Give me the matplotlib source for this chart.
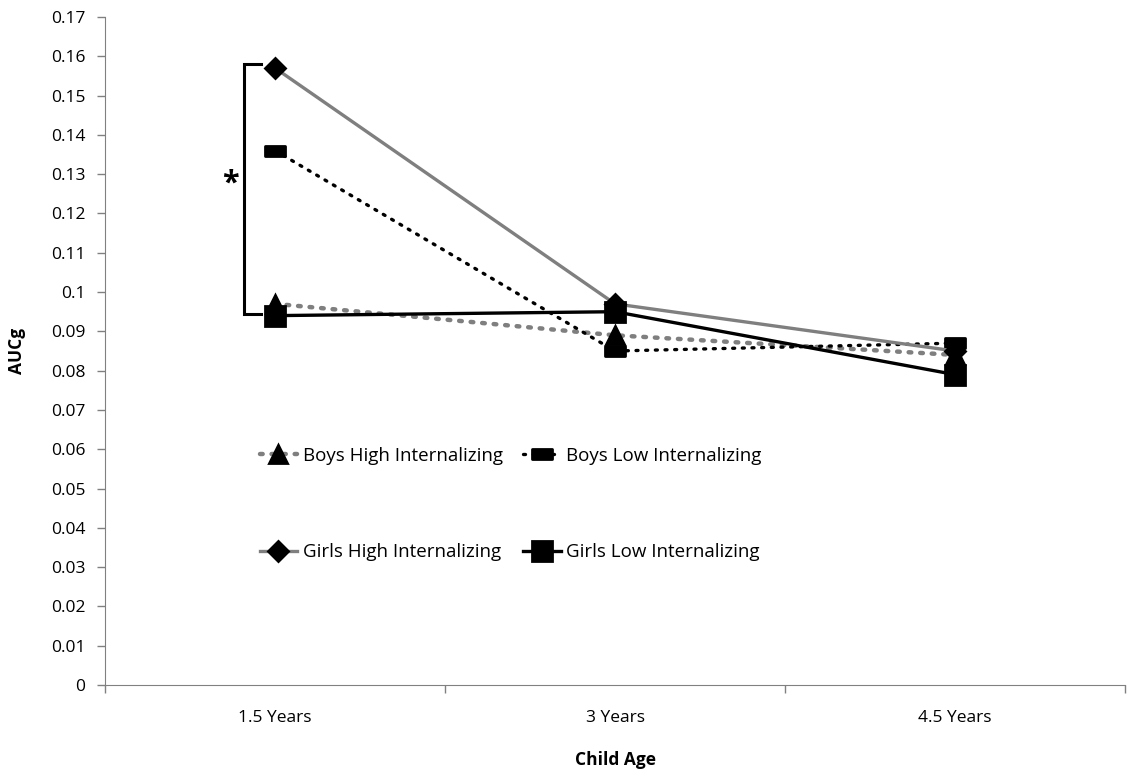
import matplotlib.pyplot as plt
import numpy as np
from matplotlib.path import Path

plt.rcParams['font.family'] = ['Open Sans', 'DejaVu Sans']

ages = ["1.5 Years", "3 Years", "4.5 Years"]
boys_high = [0.097, 0.089, 0.084]
boys_low = [0.136, 0.085, 0.087]
girls_high = [0.157, 0.097, 0.085]
girls_low = [0.094, 0.095, 0.079]

gray = "#7f7f7f"
bar_marker = Path([(-1, -0.45), (1, -0.45), (1, 0.45), (-1, 0.45), (-1, -0.45)],
                  [Path.MOVETO, Path.LINETO, Path.LINETO, Path.LINETO, Path.CLOSEPOLY])

fig = plt.figure(figsize=(11.32, 7.71), dpi=100)
ax = fig.add_axes([0.0928, 0.1115, 0.901, 0.8665])

x = np.arange(len(ages))
bh, = ax.plot(x, boys_high, color=gray, linestyle=(0, (0.6, 2.0)), lw=3.2, dash_capstyle="round",
              marker="^", markersize=13, markeredgecolor="black", markerfacecolor="black",
              markeredgewidth=2, label="Boys High Internalizing")
bl, = ax.plot(x, boys_low, color="black", linestyle=(0, (0.6, 2.3)), lw=2.4, dash_capstyle="round",
              marker=bar_marker, markersize=15, markeredgecolor="black", markerfacecolor="black",
              markeredgewidth=2, label="Boys Low Internalizing")
gh, = ax.plot(x, girls_high, color=gray, linestyle="-", lw=2.4,
              marker="D", markersize=10, markeredgecolor="black", markerfacecolor="black",
              markeredgewidth=2, label="Girls High Internalizing")
gl, = ax.plot(x, girls_low, color="black", linestyle="-", lw=2.4,
              marker="s", markersize=15, markeredgecolor="black", markerfacecolor="black",
              markeredgewidth=2, label="Girls Low Internalizing")

# significance bracket at 1.5 years
bx = -0.09
ax.plot([bx + 0.05, bx, bx, bx + 0.05], [girls_high[0] + 0.001, girls_high[0] + 0.001,
        girls_low[0] + 0.0005, girls_low[0] + 0.0005], color="black", lw=2.2,
        solid_joinstyle="miter")
ax.text(bx - 0.04, 0.1275, "*", fontsize=22, ha="center", va="center", fontweight="bold")

ax.set_xlim(-0.5, 2.5)
ax.set_ylim(0, 0.17)
ax.set_yticks(np.arange(0, 0.1701, 0.01))
ax.set_yticklabels(["%g" % round(v, 2) for v in np.arange(0, 0.1701, 0.01)])
ax.set_xticks(x)
ax.set_xticklabels(ages)
ax.set_xticks([-0.5, 0.5, 1.5, 2.5], minor=True)
ax.tick_params(axis="x", which="major", length=0, pad=18, labelsize=12.5)
ax.tick_params(axis="x", which="minor", length=6, width=1, direction="out")
ax.tick_params(axis="y", length=6, width=1, direction="out", labelsize=12.5, pad=8)
for s in ["top", "right"]:
    ax.spines[s].set_visible(False)
ax.spines["left"].set_color("#808080")
ax.spines["bottom"].set_color("#808080")
ax.tick_params(colors="#808080", labelcolor="black", which="both")

ax.set_ylabel("AUCg", fontsize=12.5, fontweight="bold", labelpad=18)
ax.set_xlabel("Child Age", fontsize=12.5, fontweight="bold", labelpad=18)

ax.legend([bh, gh, bl, gl], [h.get_label() for h in [bh, gh, bl, gl]],
          loc="upper left", bbox_to_anchor=(0.135, 0.382), ncol=2, frameon=False,
          fontsize=13.5, labelspacing=4.2, columnspacing=1.1, handlelength=2.0,
          handletextpad=0.3)

fig.savefig("out.png", dpi=100)
